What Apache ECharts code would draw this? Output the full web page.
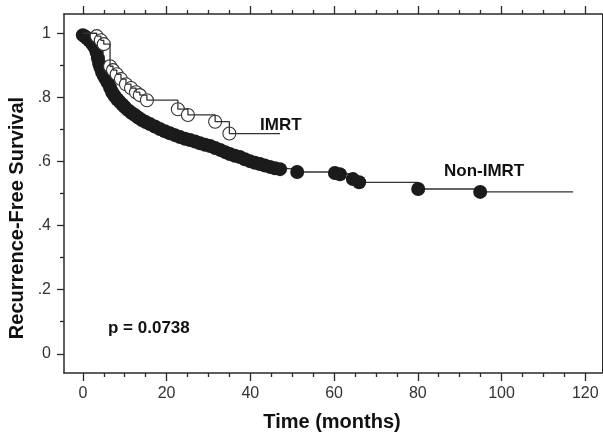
<!DOCTYPE html>
<html>
<head>
<meta charset="utf-8">
<script src="https://cdn.jsdelivr.net/npm/echarts@6/dist/echarts.min.js"></script>
<style>html,body{margin:0;padding:0;background:#fff}#c{width:603px;height:434px}</style>
</head>
<body>
<div id="c"></div>
<script>
// ---- data ----
const xMajor = [0, 20, 40, 60, 80, 100, 120];
const xMinor = [5, 10, 15, 25, 30, 35, 45, 50, 55, 65, 70, 75, 85, 90, 95, 105, 110, 115];
const yMajor = [0, 0.2, 0.4, 0.6, 0.8, 1];
const yMinor = [0.1, 0.3, 0.5, 0.7, 0.9];
const yTickLabels = ['0', '.2', '.4', '.6', '.8', '1'];

// Non-IMRT: marker times (months) and survival
const nonTime = [0, 0.5, 1, 1.5, 2, 2.5, 3, 3.3, 3.6, 3.9, 4.2, 4.6, 5, 5.5, 6, 6.5, 7, 7.6, 8.2, 8.8, 9.4, 10, 10.8, 11.6, 12.4, 13.2, 14.1, 15, 16, 17.2, 18.4, 19.6, 20.8, 22, 23.2, 24.4, 25.6, 26.8, 28, 29.2, 30.4, 31.6, 32.8, 34, 35.1, 36.3, 37.5, 38.7, 39.9, 41.1, 42.3, 43.5, 44.7, 45.9, 47.1, 51.2, 60.2, 61.4, 64.5, 66, 80.1, 94.9];
const nonSurv = [0.994, 0.99, 0.984, 0.978, 0.972, 0.962, 0.952, 0.94, 0.922, 0.905, 0.893, 0.878, 0.867, 0.856, 0.845, 0.83, 0.816, 0.804, 0.794, 0.786, 0.778, 0.77, 0.76, 0.752, 0.745, 0.737, 0.729, 0.723, 0.717, 0.709, 0.701, 0.694, 0.688, 0.682, 0.676, 0.671, 0.667, 0.662, 0.657, 0.652, 0.648, 0.642, 0.636, 0.629, 0.623, 0.618, 0.614, 0.607, 0.601, 0.596, 0.592, 0.587, 0.583, 0.579, 0.576, 0.567, 0.564, 0.56, 0.545, 0.535, 0.514, 0.505];
const nonEnd = [117.1, 0.505];

// IMRT: start, censoring markers, end
const imrtStart = [0, 1.0];
const imrtTime = [3.3, 4.3, 5.0, 6.5, 7.2, 8.1, 9.1, 10.3, 11.5, 12.7, 13.6, 15.3, 22.7, 25.1, 31.6, 35.0];
const imrtSurv = [0.991, 0.978, 0.966, 0.897, 0.885, 0.872, 0.857, 0.841, 0.829, 0.816, 0.807, 0.791, 0.763, 0.745, 0.724, 0.687];
const imrtEnd = [47.1, 0.687];

const labels = { imrt: 'IMRT', non: 'Non-IMRT', p: 'p = 0.0738', x: 'Time (months)', y: 'Recurrence-Free Survival' };

// ---- build ----
const nonPts = nonTime.map((t, i) => [t, nonSurv[i]]);
const imrtPts = imrtTime.map((t, i) => [t, imrtSurv[i]]);
const nonLine = nonPts.concat([nonEnd]);
const imrtLine = [imrtStart].concat(imrtPts, [imrtEnd]);

const FONT = '"Liberation Sans", Arial, sans-serif';
const AX = '#2a2a2a';
const XMIN = -4.5, XMAX = 124, YMIN = -0.06, YMAX = 1.06;

function xAx(pos, ticks, len, showLine, showLabel) {
  return {
    type: 'value', position: pos, min: XMIN, max: XMAX, splitLine: { show: false },
    axisLine: { show: showLine, onZero: false, lineStyle: { color: AX, width: 1.5 } },
    axisTick: { show: true, customValues: ticks, length: len, inside: false, lineStyle: { color: AX, width: 1.3 } },
    axisLabel: showLabel ? { show: true, customValues: ticks, margin: 13, fontSize: 16, color: '#333', fontFamily: FONT } : { show: false }
  };
}
function yAx(pos, ticks, len, showLine, showLabel, showTick) {
  return {
    type: 'value', position: pos, min: YMIN, max: YMAX, splitLine: { show: false },
    axisLine: { show: showLine, onZero: false, lineStyle: { color: AX, width: pos === 'right' ? 1 : 1.5 } },
    axisTick: { show: showTick, customValues: ticks, length: len, lineStyle: { color: AX, width: 1.3 } },
    axisLabel: showLabel ? {
      show: true, customValues: ticks, margin: 13, fontSize: 16, color: '#333', fontFamily: FONT,
      formatter: v => { const i = yMajor.findIndex(m => Math.abs(m - v) < 1e-9); return i >= 0 ? yTickLabels[i] : ''; }
    } : { show: false }
  };
}

const chart = echarts.init(document.getElementById('c'), null, { renderer: 'canvas' });
chart.setOption({
  animation: false,
  backgroundColor: '#fff',
  grid: { left: 64, right: 1, top: 14, bottom: 61, containLabel: false },
  xAxis: [
    xAx('bottom', xMajor, 8, true, true),
    xAx('bottom', xMinor, 4, false, false),
    xAx('top', xMajor, 8, true, false),
    xAx('top', xMinor, 4, false, false)
  ],
  yAxis: [
    yAx('left', yMajor, 7, true, true, true),
    yAx('left', yMinor, 4, false, false, true),
    yAx('right', [], 0, true, false, false)
  ],
  series: [
    { type: 'line', step: 'end', data: nonLine, showSymbol: false, lineStyle: { color: '#333', width: 1.3 }, z: 2 },
    { type: 'scatter', data: nonPts, symbol: 'circle', symbolSize: 14, itemStyle: { color: '#1b1b1b', opacity: 1 }, z: 3 },
    { type: 'scatter', data: imrtPts, symbol: 'circle', symbolSize: 13, itemStyle: { color: '#ffffff', borderColor: '#333', borderWidth: 1.1, opacity: 1 }, z: 4 },
    { type: 'line', step: 'end', data: imrtLine, showSymbol: false, lineStyle: { color: '#333', width: 1.3 }, z: 5 }
  ],
  graphic: [
    { type: 'text', x: 260, y: 125, style: { text: labels.imrt, font: 'bold 17px ' + FONT, fill: '#111', align: 'left', verticalAlign: 'middle', textAlign: 'left', textVerticalAlign: 'middle' } },
    { type: 'text', x: 444, y: 171, style: { text: labels.non, font: 'bold 17px ' + FONT, fill: '#111', align: 'left', verticalAlign: 'middle', textAlign: 'left', textVerticalAlign: 'middle' } },
    { type: 'text', x: 108, y: 328, style: { text: labels.p, font: 'bold 17px ' + FONT, fill: '#111', align: 'left', verticalAlign: 'middle', textAlign: 'left', textVerticalAlign: 'middle' } },
    { type: 'text', x: 332, y: 422, style: { text: labels.x, font: 'bold 20px ' + FONT, fill: '#111', align: 'center', verticalAlign: 'middle', textAlign: 'center', textVerticalAlign: 'middle' } },
    { type: 'text', x: 17, y: 218, rotation: Math.PI / 2, style: { text: labels.y, font: 'bold 20px ' + FONT, fill: '#111', align: 'center', verticalAlign: 'middle', textAlign: 'center', textVerticalAlign: 'middle' } }
  ]
});
</script>
</body>
</html>
